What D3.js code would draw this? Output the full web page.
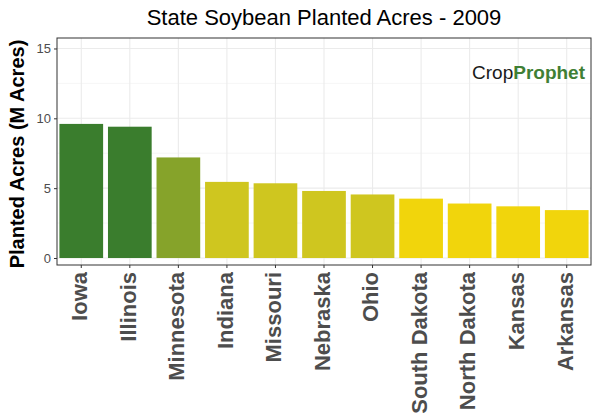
<!DOCTYPE html>
<html><head><meta charset="utf-8">
<script src="https://cdn.jsdelivr.net/npm/d3@7"></script>
<style>body{margin:0;background:#fff;font-family:"Liberation Sans",Arial,sans-serif}</style>
</head><body><div id="chart"></div>
<script>
const states = ["Iowa","Illinois","Minnesota","Indiana","Missouri","Nebraska","Ohio","South Dakota","North Dakota","Kansas","Arkansas"];
const acres = [9.6, 9.4, 7.2, 5.45, 5.35, 4.8, 4.55, 4.25, 3.9, 3.7, 3.43];
const barColors = ["#3a7d2d","#3a7d2d","#86a32a","#cfc61f","#cfc61f","#cfc61f","#cfc61f","#f1d50c","#f1d50c","#f1d50c","#f1d50c"];
const yTicks = [0, 5, 10, 15];

const width = 600, height = 420;
const margin = { top: 38, right: 9, bottom: 155, left: 57 };

const svg = d3.select("#chart").append("svg").attr("width", width).attr("height", height);

const x = d3.scaleBand().domain(states)
    .range([margin.left, width - margin.right]).paddingInner(0.1).paddingOuter(0.05);
const y = d3.scaleLinear().domain([-0.5, 15.75])
    .range([265, margin.top]);

// 网格线
const gridMinor = [2.5, 7.5, 12.5];
svg.append("g").selectAll("line").data(gridMinor).join("line")
    .attr("x1", margin.left).attr("x2", width - margin.right)
    .attr("y1", d => y(d)).attr("y2", d => y(d))
    .attr("stroke", "#f0f0f0").attr("stroke-width", 0.6);
svg.append("g").selectAll("line").data(yTicks).join("line")
    .attr("x1", margin.left).attr("x2", width - margin.right)
    .attr("y1", d => y(d)).attr("y2", d => y(d))
    .attr("stroke", "#ebebeb").attr("stroke-width", 1.1);
svg.append("g").selectAll("line").data(states).join("line")
    .attr("x1", d => x(d) + x.bandwidth() / 2).attr("x2", d => x(d) + x.bandwidth() / 2)
    .attr("y1", margin.top).attr("y2", 265)
    .attr("stroke", "#ebebeb").attr("stroke-width", 1.1);

// 柱子
svg.append("g").selectAll("rect").data(states).join("rect")
    .attr("x", d => x(d)).attr("width", x.bandwidth())
    .attr("y", (d, i) => y(acres[i]))
    .attr("height", (d, i) => y(0) - y(acres[i]))
    .attr("fill", (d, i) => barColors[i]);

// 边框
svg.append("rect")
    .attr("x", margin.left).attr("y", margin.top)
    .attr("width", width - margin.left - margin.right)
    .attr("height", 265 - margin.top)
    .attr("fill", "none").attr("stroke", "#333").attr("stroke-width", 1);

// 坐标轴
const yAxis = svg.append("g").attr("transform", `translate(${margin.left},0)`)
    .call(d3.axisLeft(y).tickValues(yTicks).tickSize(3).tickPadding(3));
yAxis.select(".domain").remove();
yAxis.selectAll("line").attr("stroke", "#333");
yAxis.selectAll("text").attr("fill", "#4d4d4d").style("font-size", "13px");

const xAxis = svg.append("g").attr("transform", `translate(0,265)`)
    .call(d3.axisBottom(x).tickSize(3).tickPadding(4));
xAxis.select(".domain").remove();
xAxis.selectAll("line").attr("stroke", "#333");
xAxis.selectAll("text")
    .attr("transform", "rotate(-90)")
    .attr("text-anchor", "end")
    .attr("x", -7).attr("y", 0).attr("dy", 0)
    .attr("dominant-baseline", "middle")
    .attr("fill", "#4d4d4d")
    .style("font-size", "22px").style("font-weight", "bold");

// 标题
svg.append("text").attr("x", (margin.left + width - margin.right) / 2).attr("y", 25)
    .attr("text-anchor", "middle").attr("font-size", "22px").attr("fill", "#000")
    .text("State Soybean Planted Acres - 2009");

svg.append("text").attr("transform", "rotate(-90)")
    .attr("x", -154).attr("y", 24)
    .attr("text-anchor", "middle").attr("font-size", "20px").attr("font-weight", "bold")
    .text("Planted Acres (M Acres)");

// 标志
const logo = svg.append("text").attr("x", 585).attr("y", 79).attr("text-anchor", "end")
    .attr("font-size", "19px").attr("font-weight", "bold");
logo.append("tspan").attr("fill", "#1a1a1a").attr("font-weight", "normal").text("Crop");
logo.append("tspan").attr("fill", "#3f7f35").text("Prophet");
</script></body></html>
